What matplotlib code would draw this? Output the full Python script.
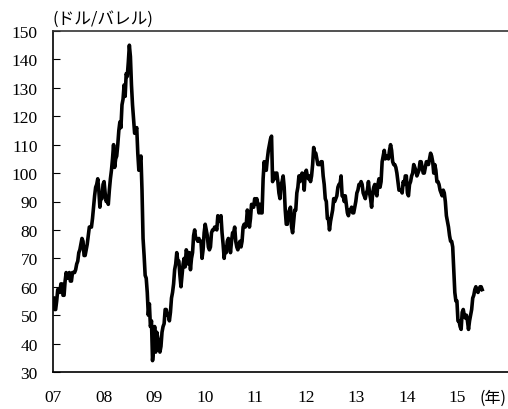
""" WTI crude oil price, weekly, 2007 - mid 2015 """

import matplotlib
matplotlib.use('Agg')
import matplotlib.pyplot as plt
import numpy as np

matplotlib.rcParams['font.family'] = ['Liberation Serif', 'Noto Sans CJK JP']
matplotlib.rcParams['font.size'] = 12.5

# ### weekly prices (USD/bbl), four readings per month
p2007 = [56, 52, 52, 55, 59, 59, 58, 61, 61, 57, 57, 62,
         65, 63, 63, 65, 62, 62, 65, 65, 65, 66, 68, 69,
         72, 73, 75, 77, 76, 71, 71, 73, 75, 78, 81, 81,
         81, 84, 88, 92, 95, 96, 98, 94, 88, 92, 91, 96]
p2008 = [97, 93, 90, 91, 89, 94, 98, 101, 105, 110, 102, 105,
         106, 110, 115, 118, 116, 124, 126, 131, 127, 135, 134, 139,
         145, 141, 131, 124, 119, 114, 115, 116, 107, 101, 104, 106,
         94, 77, 71, 64, 63, 58, 50, 54, 46, 48, 34, 38]
p2009 = [46, 37, 44, 42, 40, 37, 39, 44, 46, 47, 52, 52,
         50, 50, 48, 51, 56, 58, 61, 66, 68, 72, 69, 69,
         64, 60, 64, 68, 70, 67, 73, 72, 68, 72, 66, 70,
         72, 78, 80, 77, 77, 76, 77, 76, 76, 70, 73, 79]
p2010 = [82, 80, 78, 74, 73, 74, 79, 80, 80, 81, 81, 80,
         85, 84, 83, 85, 79, 75, 70, 74, 72, 76, 77, 76,
         72, 76, 79, 79, 81, 76, 74, 73, 75, 76, 74, 76,
         81, 82, 81, 82, 87, 85, 81, 84, 89, 88, 88, 91]
p2011 = [89, 91, 89, 86, 89, 86, 86, 98, 104, 101, 101, 105,
         108, 110, 112, 113, 97, 100, 98, 100, 100, 97, 93, 91,
         96, 97, 99, 95, 87, 82, 82, 86, 87, 88, 81, 79,
         83, 87, 87, 93, 95, 99, 97, 99, 100, 99, 94, 100]
p2012 = [101, 99, 98, 99, 97, 99, 103, 109, 107, 107, 105, 103,
         103, 103, 104, 104, 99, 96, 91, 90, 84, 84, 80, 83,
         85, 87, 91, 90, 91, 92, 95, 96, 96, 99, 92, 92,
         90, 92, 89, 86, 85, 87, 87, 88, 86, 86, 88, 90]
p2013 = [93, 94, 96, 96, 97, 96, 93, 92, 91, 93, 94, 97,
         93, 91, 88, 93, 95, 96, 93, 92, 96, 98, 95, 97,
         104, 106, 108, 105, 106, 106, 105, 108, 110, 108, 104, 103,
         103, 102, 100, 97, 94, 94, 94, 93, 97, 96, 99, 99]
p2014 = [93, 92, 96, 97, 99, 100, 103, 102, 101, 99, 100, 101,
         104, 104, 102, 100, 100, 102, 104, 104, 103, 105, 107, 106,
         104, 100, 103, 101, 97, 97, 96, 94, 93, 92, 94, 93,
         90, 85, 83, 81, 78, 76, 76, 74, 66, 58, 55, 55]
p2015 = [48, 48, 46, 45, 51, 52, 50, 49, 50, 48, 45, 48,
         50, 52, 56, 57, 59, 60, 59, 58, 59, 60, 60, 59]

years = [2007, 2008, 2009, 2010, 2011, 2012, 2013, 2014, 2015]
tick_labels = ['07', '08', '09', '10', '11', '12', '13', '14', '15']

series = [p2007, p2008, p2009, p2010, p2011, p2012, p2013, p2014, p2015]
t = np.concatenate([yr + (np.arange(len(p)) + 0.5) / 48.0
                    for yr, p in zip(years, series)])
price = np.concatenate(series)

fig = plt.figure(figsize=(5.08, 4.10), dpi=100)
ax = fig.add_axes([53 / 508, 37 / 410, 455 / 508, 341 / 410])

ax.plot(t, price, color='black', linewidth=2.6, solid_joinstyle='round')

ax.set_xlim(2007, 2016)
ax.set_ylim(30, 150)
ax.set_yticks(np.arange(30, 151, 10))
ax.set_xticks(years)
ax.set_xticklabels(tick_labels)

ax.tick_params(axis='y', direction='in', length=5, width=0.8, pad=11)
ax.tick_params(axis='x', length=0, pad=12)

ax.spines['right'].set_visible(False)
ax.spines['left'].set_linewidth(1.2)
ax.spines['bottom'].set_linewidth(1.2)
ax.spines['top'].set_linewidth(1.2)
ax.spines['top'].set_color('#333333')

fig.text(53 / 508, 1 - 19 / 410, '(ドル/バレル)', ha='left', va='center',
         fontsize=12, family=['Noto Sans CJK JP'])
fig.text(493 / 508, 1 - 398 / 410, '(年)', ha='center', va='center',
         fontsize=11.5, family=['Noto Sans CJK JP'])

fig.savefig('out.png', dpi=100)
